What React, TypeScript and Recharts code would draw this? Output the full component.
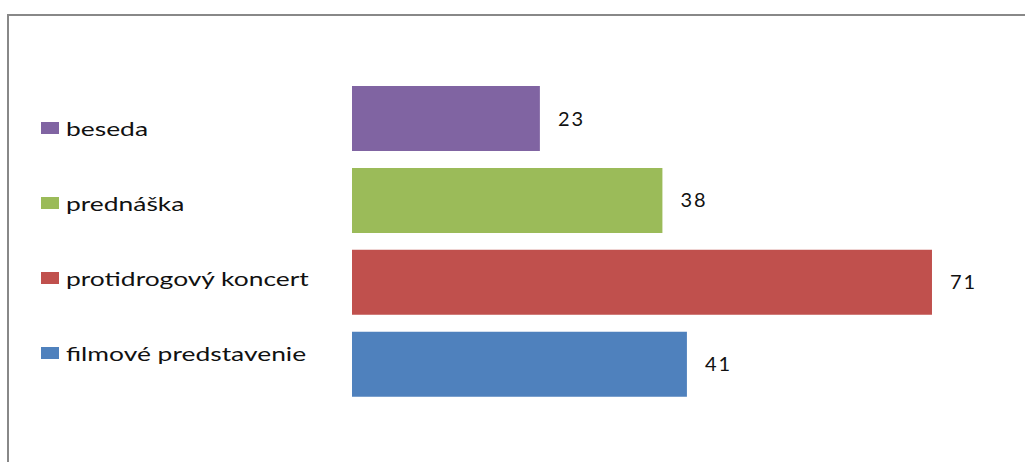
import React from "react";
import { BarChart, Bar, XAxis, YAxis, Cell, LabelList } from "recharts";

const categories = ["beseda", "prednáška", "protidrogový koncert", "filmové predstavenie"];
const values = [23, 38, 71, 41];
const colors = ["#8064A2", "#9BBB59", "#C0504D", "#4F81BD"];

const data = categories.map((name, i) => ({ name, value: values[i] }));

function LegendList() {
  return (
    <ul
      style={{
        listStyle: "none",
        margin: 0,
        padding: 0,
        position: "absolute",
        left: 41,
        top: 90,
      }}
    >
      {categories.map((name, i) => (
        <li key={name} style={{ height: 75, display: "flex", alignItems: "center" }}>
          <span
            style={{
              width: 18,
              height: 12,
              background: colors[i],
              display: "inline-block",
              flexShrink: 0,
            }}
          />
          <span
            style={{
              marginLeft: 7,
              fontFamily: "Lato, sans-serif",
              fontSize: 20,
              color: "#111",
              whiteSpace: "nowrap",
              display: "inline-block",
              transform: "scaleX(1.32)",
              transformOrigin: "left center",
            }}
          >
            {name}
          </span>
        </li>
      ))}
    </ul>
  );
}

export default function App() {
  return (
    <div
      style={{
        position: "absolute",
        left: 0,
        top: 0,
        width: 1025,
        height: 462,
        background: "#fff",
        overflow: "hidden",
      }}
    >
      {/* chart frame */}
      <div
        style={{
          position: "absolute",
          left: 7,
          top: 14,
          width: 1030,
          height: 460,
          borderTop: "2px solid #888",
          borderLeft: "2px solid #888",
        }}
      />
      <BarChart
        width={1025}
        height={462}
        data={data}
        layout="vertical"
        margin={{ top: 78, right: 19.5, bottom: 56.5, left: 352 }}
        style={{ position: "absolute", left: 0, top: 0 }}
      >
        <XAxis type="number" domain={[0, 80]} hide />
        <YAxis type="category" dataKey="name" hide />
        <Bar dataKey="value" barSize={65} isAnimationActive={false}>
          {data.map((d, i) => (
            <Cell key={d.name} fill={colors[i]} />
          ))}
          <LabelList
            dataKey="value"
            position="right"
            offset={18}
            fill="#111"
            fontFamily="Lato, sans-serif"
            fontSize={20}
            letterSpacing={2}
          />
        </Bar>
      </BarChart>
      <LegendList />
    </div>
  );
}
